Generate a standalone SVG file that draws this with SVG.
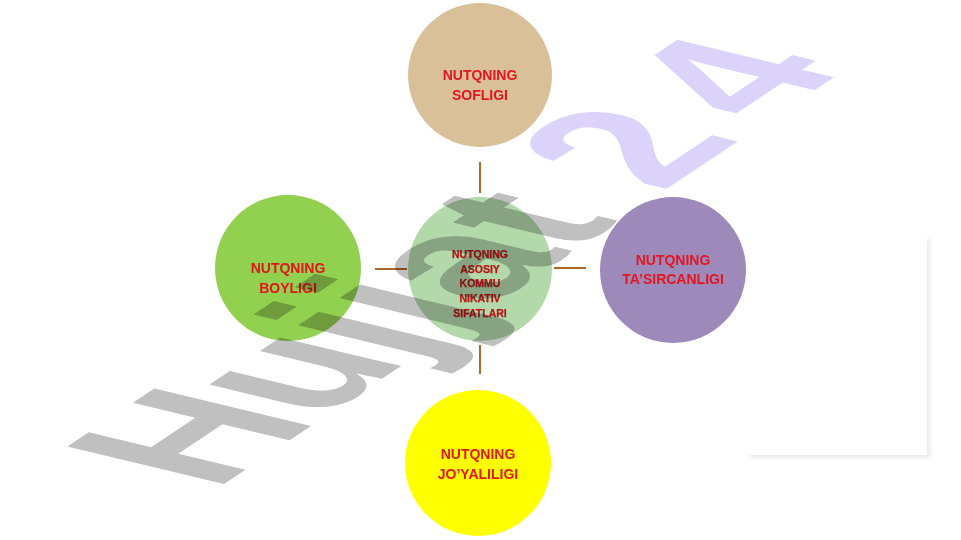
<svg xmlns="http://www.w3.org/2000/svg" width="961" height="540" viewBox="0 0 961 540">
<defs>
<style>
.lbl{font-family:"Liberation Sans",Arial,sans-serif;font-size:14px;font-weight:bold;fill:#E3151E;text-anchor:middle}
.small{font-family:"Liberation Sans",Arial,sans-serif;font-size:10.5px;font-weight:bold;fill:#CC1219;stroke:#8A0A0A;stroke-width:0.25;text-anchor:middle}
.conn{stroke:#B0652A;stroke-width:2;fill:none}
.wm{font-family:"Liberation Sans",Arial,sans-serif;font-weight:bold;font-size:100px;mix-blend-mode:multiply}
</style>
<filter id="sh" x="-10%" y="-10%" width="120%" height="120%"><feGaussianBlur stdDeviation="2"/></filter>
</defs>
<rect width="961" height="540" fill="#ffffff"/>
<g id="panel">
<rect x="750" y="239" width="180" height="219" fill="#e9e9e9" filter="url(#sh)"/>
<rect x="747" y="236" width="180" height="219" fill="#ffffff"/>
</g>
<g id="connectors">
<line class="conn" x1="480" y1="162" x2="480" y2="193"/>
<line class="conn" x1="480" y1="345" x2="480" y2="374"/>
<line class="conn" x1="375" y1="269" x2="407" y2="269"/>
<line class="conn" x1="554" y1="268" x2="586" y2="268"/>
</g>
<g id="node-top">
<circle cx="480" cy="75" r="72" fill="#D9C098"/>
<text class="lbl" x="480" y="80">NUTQNING</text>
<text class="lbl" x="480" y="100">SOFLIGI</text>
</g>
<g id="node-left">
<circle cx="288" cy="268" r="73" fill="#92D050"/>
<text class="lbl" x="288" y="273">NUTQNING</text>
<text class="lbl" x="288" y="293">BOYLIGI</text>
</g>
<g id="node-center">
<circle cx="480" cy="269" r="72" fill="#B3D9AB"/>
<text class="small" x="480" y="257.5">NUTQNING</text>
<text class="small" x="480" y="272.5">ASOSIY</text>
<text class="small" x="480" y="287">KOMMU</text>
<text class="small" x="480" y="302">NIKATIV</text>
<text class="small" x="480" y="316.5">SIFATLARI</text>
</g>
<g id="node-right">
<circle cx="673" cy="270" r="73" fill="#9E89BB"/>
<text class="lbl" x="673" y="265">NUTQNING</text>
<text class="lbl" x="673" y="284">TA’SIRCANLIGI</text>
</g>
<g id="node-bottom">
<circle cx="478" cy="463" r="73" fill="#FFFF00"/>
<text class="lbl" x="478" y="459">NUTQNING</text>
<text class="lbl" x="478" y="479">JO’YALILIGI</text>
</g>
<g id="watermark">
<text class="wm" transform="matrix(1.476 -0.984 2.277 0.545 214.2 490.5)"><tspan fill="#C0C0C0" x="0 72.2 131.5 159.4 187 242">Hujjat</tspan><tspan fill="#DCD3FB" x="303 374">24</tspan></text>
</g>
</svg>
